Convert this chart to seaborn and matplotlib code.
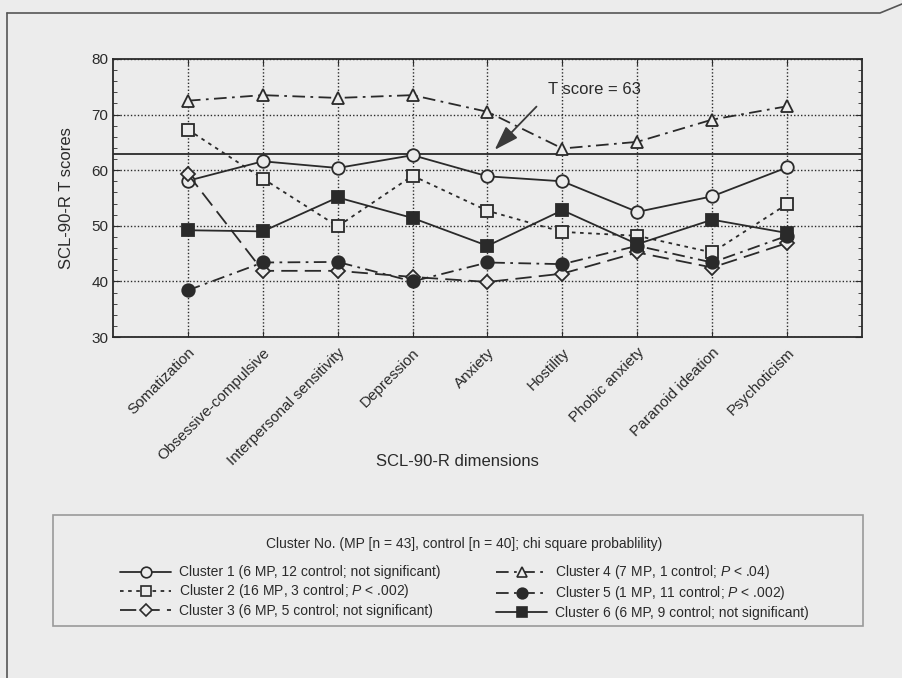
import numpy as np
import pandas as pd
import matplotlib.pyplot as plt
import matplotlib.lines as mlines
import matplotlib.patches as mpatches
from matplotlib.ticker import MultipleLocator
import seaborn as sns

# --- data ---
dimensions = ['Somatization', 'Obsessive-compulsive', 'Interpersonal sensitivity',
              'Depression', 'Anxiety', 'Hostility', 'Phobic anxiety',
              'Paranoid ideation', 'Psychoticism']

cluster1 = [58.1, 61.6, 60.4, 62.7, 58.9, 58.0, 52.5, 55.3, 60.5]
cluster2 = [67.3, 58.5, 49.9, 59.0, 52.7, 48.9, 48.2, 45.2, 53.9]
cluster3 = [59.3, 41.9, 41.9, 40.8, 39.9, 41.4, 45.2, 42.5, 46.9]
cluster4 = [72.5, 73.5, 73.0, 73.5, 70.5, 63.9, 65.1, 69.1, 71.5]
cluster5 = [38.4, 43.4, 43.5, 40.0, 43.4, 43.1, 46.4, 43.4, 48.2]
cluster6 = [49.2, 49.0, 55.1, 51.4, 46.4, 52.8, 46.7, 51.1, 48.7]

legend_title = 'Cluster No. (MP [n = 43], control [n = 40]; chi square probablility)'
labels = [
    'Cluster 1 (6 MP, 12 control; not significant)',
    'Cluster 2 (16 MP, 3 control; $P$ < .002)',
    'Cluster 3 (6 MP, 5 control; not significant)',
    'Cluster 4 (7 MP, 1 control; $P$ < .04)',
    'Cluster 5 (1 MP, 11 control; $P$ < .002)',
    'Cluster 6 (6 MP, 9 control; not significant)',
]
t_score = 63

# --- style ---
bg = '#ececec'
ink = '#2a2a2a'
sns.set_style('ticks')
plt.rcParams['font.family'] = ['Liberation Sans', 'DejaVu Sans']
plt.rcParams['mathtext.fontset'] = 'custom'
plt.rcParams['mathtext.it'] = 'Liberation Sans:italic'
plt.rcParams['mathtext.rm'] = 'Liberation Sans'

df = pd.DataFrame({
    'pos': np.arange(len(dimensions)),
    'c1': cluster1, 'c2': cluster2, 'c3': cluster3,
    'c4': cluster4, 'c5': cluster5, 'c6': cluster6,
})

styles = {
    'c1': dict(marker='o', ms=9, mfc=bg, ls='-'),
    'c2': dict(marker='s', ms=9, mfc=bg, ls=(0, (2, 2.5))),
    'c3': dict(marker='D', ms=7, mfc=bg, ls=(0, (9, 4))),
    'c4': dict(marker='^', ms=9, mfc=bg, ls=(0, (7, 3, 1.5, 3))),
    'c5': dict(marker='o', ms=9, mfc=ink, ls=(0, (7, 3, 1.5, 3))),
    'c6': dict(marker='s', ms=9, mfc=ink, ls='-'),
}

fig = plt.figure(figsize=(9.02, 6.78), dpi=100, facecolor=bg)
ax = fig.add_axes([113 / 902, 1 - 337 / 678, 749 / 902, 278 / 678])
ax.set_facecolor(bg)

handles = []
for key, lab in zip(['c1', 'c2', 'c3', 'c4', 'c5', 'c6'], labels):
    st = styles[key]
    sns.lineplot(data=df, x='pos', y=key, ax=ax, sort=False, errorbar=None,
                 color=ink, linewidth=1.3, linestyle=st['ls'],
                 marker=st['marker'], markersize=st['ms'],
                 markerfacecolor=st['mfc'], markeredgecolor=ink,
                 markeredgewidth=1.3, zorder=3)
    handles.append(mlines.Line2D([], [], color=ink, lw=1.3, ls=st['ls'],
                                 marker=st['marker'], ms=st['ms'] * 0.85,
                                 mfc=st['mfc'], mec=ink, mew=1.2, label=lab))

# T score reference line and annotation
ax.axhline(t_score, color=ink, lw=1.3, zorder=2)
ax.annotate('', xy=(4.07, 63.3), xytext=(4.68, 71.8),
            arrowprops=dict(arrowstyle='-|>,head_length=1.5,head_width=0.5',
                            color='#3a3a3a', lw=1.3))
ax.text(5.43, 74.6, 'T score = 63', ha='center', va='center',
        fontsize=12, color=ink)

# axes
ax.set_xlim(-1, 9)
ax.set_ylim(30, 80)
ax.set_xticks(df['pos'])
ax.set_xticklabels(dimensions, rotation=45, ha='right', rotation_mode='anchor',
                   fontsize=11, color=ink)
ax.yaxis.set_major_locator(MultipleLocator(10))
ax.yaxis.set_minor_locator(MultipleLocator(2))
ax.tick_params(axis='y', which='major', direction='in', length=5, right=True,
               labelsize=11, labelcolor=ink, color=ink)
ax.tick_params(axis='y', which='minor', direction='in', length=3, right=True,
               color=ink)
ax.tick_params(axis='x', direction='in', length=4, top=True, color=ink, pad=6)
ax.grid(True, which='major', ls=(0, (1, 1.5)), color=ink, lw=1.0)
for s in ax.spines.values():
    s.set_visible(True)
    s.set_color(ink)
    s.set_linewidth(1.3)

ax.set_xlabel('')
ax.set_ylabel('SCL-90-R T scores', fontsize=12, color=ink, labelpad=12)
fig.text(457 / 902, 1 - 462 / 678, 'SCL-90-R dimensions', ha='center',
         va='center', fontsize=12, color=ink)

# legend box
fig.add_artist(mpatches.Rectangle((53 / 902, 1 - 626 / 678), 810 / 902, 111 / 678,
                                  transform=fig.transFigure, facecolor=bg,
                                  edgecolor='#9a9a9a', lw=1.2))
leg = fig.legend(handles=handles, ncol=2, loc='upper left',
                 bbox_to_anchor=(113 / 902, 1 - 530 / 678),
                 title=legend_title, frameon=False, borderpad=0,
                 prop={'size': 10}, title_fontsize=10,
                 handlelength=3.7, handletextpad=0.55, columnspacing=4.0,
                 labelspacing=0.22, numpoints=1)
leg._legend_box.sep = 9
for t in leg.get_texts():
    t.set_color(ink)
leg.get_title().set_color(ink)

# page frame from the scan
fig.add_artist(mlines.Line2D([7 / 902, 880 / 902, 902 / 902],
                             [1 - 13 / 678, 1 - 13 / 678, 1 - 4 / 678],
                             transform=fig.transFigure, color='#555555', lw=1.2))
fig.add_artist(mlines.Line2D([7 / 902, 7 / 902], [1 - 13 / 678, 0],
                             transform=fig.transFigure, color='#555555', lw=1.2))

fig.savefig('out.png', dpi=100, facecolor=bg)
